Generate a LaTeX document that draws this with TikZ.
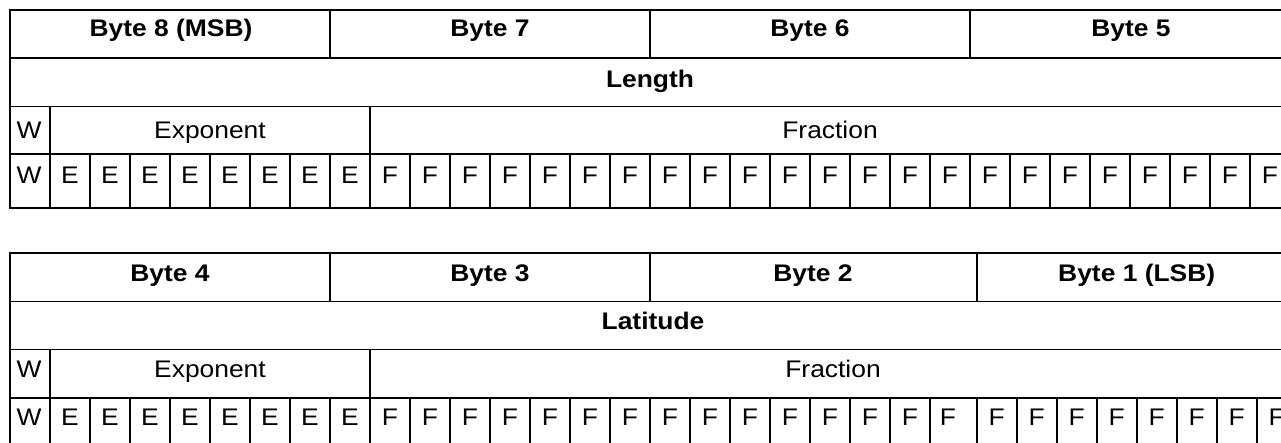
\documentclass[tikz,border=0pt]{standalone}
\usepackage{fontspec}
\setmainfont{Liberation Sans}[FakeStretch=1.1]
\begin{document}
\begin{tikzpicture}[x=1pt,y=-1pt,
  grid/.style={draw=black, line width=1.6pt},
  lbl/.style={anchor=base, inner sep=0pt, font=\fontsize{24}{28}\selectfont},
  hdr/.style={anchor=base, inner sep=0pt, font=\fontsize{24}{28}\selectfont\bfseries}]
\useasboundingbox (0,0) rectangle (1281,443);
\clip (0,0) rectangle (1281,443);
% ---------- top table ----------
\draw[grid] (10,10) rectangle (1290,208.3);
\foreach \y in {58.3,106.7,154.3} \draw[grid] (10,\y) -- (1290,\y);
\foreach \x in {330,650,970} \draw[grid] (\x,10) -- (\x,58.3);
\foreach \x in {50,370} \draw[grid] (\x,106.7) -- (\x,154.3);
\foreach \i in {1,...,31} \draw[grid] ({10+40*\i},154.3) -- ({10+40*\i},208.3);
\node[hdr] (tb8) at (171,37) {Byte 8 (MSB)};
\node[hdr] (tb7) at (490,37) {Byte 7};
\node[hdr] (tb6) at (810,37) {Byte 6};
\node[hdr] (tb5) at (1131,37) {Byte 5};
\node[hdr] (tlen) at (650,88) {Length};
\node[lbl] (tw) at (29,138.5) {W};
\node[lbl] (texp) at (210,138.5) {Exponent};
\node[lbl] (tfrac) at (830,138.5) {Fraction};
\node[lbl] (tbit0) at (29,184) {W};
\foreach \i in {1,...,8} \node[lbl] (tbit\i) at ({30+40*\i},184) {E};
\foreach \i in {9,...,31} \node[lbl] (tbit\i) at ({30+40*\i},184) {F};
% ---------- bottom table ----------
\draw[grid] (10,253.3) rectangle (1296.7,446);
\foreach \y in {301.7,349.3,397.7} \draw[grid] (10,\y) -- (1296.7,\y);
\foreach \x in {330,650,976.7} \draw[grid] (\x,253.3) -- (\x,301.7);
\foreach \x in {50,370} \draw[grid] (\x,349.3) -- (\x,397.7);
\foreach \i in {1,...,23} \draw[grid] ({10+40*\i},397.7) -- ({10+40*\i},446);
\foreach \k in {0,...,7} \draw[grid] ({976.7+40*\k},397.7) -- ({976.7+40*\k},446);
\node[hdr] (bb4) at (170,281.5) {Byte 4};
\node[hdr] (bb3) at (490,281.5) {Byte 3};
\node[hdr] (bb2) at (813,281.5) {Byte 2};
\node[hdr] (bb1) at (1136.7,281.5) {Byte 1 (LSB)};
\node[hdr] (blat) at (653,330) {Latitude};
\node[lbl] (bw) at (29,377) {W};
\node[lbl] (bexp) at (210,377) {Exponent};
\node[lbl] (bfrac) at (833,377) {Fraction};
\node[lbl] (bbit0) at (29,425) {W};
\foreach \i in {1,...,8} \node[lbl] (bbit\i) at ({30+40*\i},425) {E};
\foreach \i in {9,...,22} \node[lbl] (bbit\i) at ({30+40*\i},425) {F};
\node[lbl] (bbit23) at (948,425) {F};
\foreach \k in {0,...,7} \node[lbl] (bbitb\k) at ({996.7+40*\k},425) {F};
\end{tikzpicture}
\end{document}
